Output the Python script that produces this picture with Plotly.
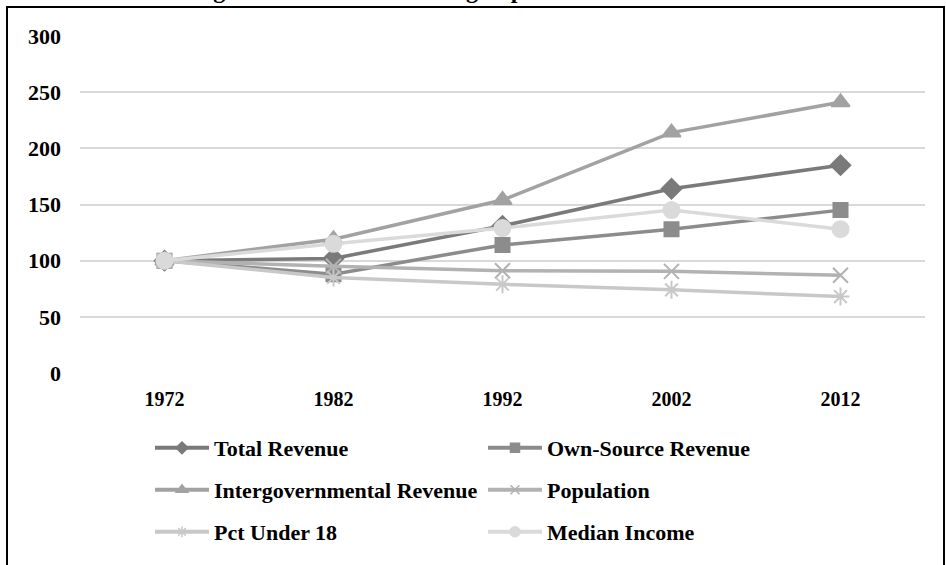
import plotly.graph_objects as go

years = ["1972", "1982", "1992", "2002", "2012"]
series_names = ["Total Revenue", "Own-Source Revenue", "Intergovernmental Revenue",
                "Population", "Pct Under 18", "Median Income"]
total_revenue = [100, 102, 131, 164, 185]
own_source = [100, 88, 114, 128, 145]
intergov = [100, 119, 154, 214, 241]
population = [100, 95, 91, 90.5, 87]
pct_under_18 = [100, 85, 79, 74, 68]
median_income = [100, 115, 129, 145, 128]
y_ticks = [0, 50, 100, 150, 200, 250, 300]

values = [total_revenue, own_source, intergov, population, pct_under_18, median_income]
colors = ["#7a7a7a", "#8c8c8c", "#a2a2a2", "#b2b2b2", "#c8c8c8", "#dadada"]
symbols = ["diamond", "square", "triangle-up", "x-thin-open", "asterisk-open", "circle"]
sizes = [15, 14, 16, 15, 15, 16]
legend_sizes = [9, 9, 10, 9, 9, 10]
legends = ["legend", "legend", "legend2", "legend2", "legend3", "legend3"]

FONT = "Liberation Serif"

fig = go.Figure()
# data traces
for name, v, c, s, sz in zip(series_names, values, colors, symbols, sizes):
    fig.add_trace(go.Scatter(
        x=years, y=v, name=name, mode="lines+markers", showlegend=False,
        line=dict(color=c, width=3.5),
        marker=dict(symbol=s, size=sz, color=c, line=dict(color=c, width=2)),
    ))
# legend entries (smaller symbols, as in the reference legend)
for name, c, s, lsz, lg in zip(series_names, colors, symbols, legend_sizes, legends):
    fig.add_trace(go.Scatter(
        x=[None], y=[None], name=name, mode="lines+markers", legend=lg,
        line=dict(color=c, width=4),
        marker=dict(symbol=s, size=lsz, color=c, line=dict(color=c, width=1.5)),
        hoverinfo="skip",
    ))

L, R, T, B = 80, 21, 36, 192
W, H = 946, 565
pw, ph = W - L - R, H - T - B

def px(xp):
    return (xp - L) / pw

def py(yp):
    return (H - B - yp) / ph

leg_common = dict(orientation="h", xanchor="left", yanchor="middle",
                  font=dict(family=FONT, size=22, color="black", weight="bold"),
                  itemwidth=54, entrywidth=264, entrywidthmode="pixels",
                  bgcolor="rgba(0,0,0,0)", itemclick=False)

fig.update_layout(
    width=W, height=H,
    margin=dict(l=L, r=R, t=T, b=B),
    paper_bgcolor="white", plot_bgcolor="white",
    showlegend=True,
    legend=dict(x=px(150), y=py(448), **leg_common),
    legend2=dict(x=px(150), y=py(490), **leg_common),
    legend3=dict(x=px(150), y=py(532), **leg_common),
    xaxis=dict(type="category", range=[-0.5, 4.5], showgrid=False, showline=False,
               ticks="", ticklabelstandoff=12,
               tickfont=dict(family=FONT, size=20, color="black", weight="bold")),
    yaxis=dict(range=[0, 300], tickvals=y_ticks, showgrid=True, gridcolor="#d9d9d9",
               gridwidth=1.5, zeroline=False, showline=False, ticks="",
               ticklabelstandoff=18,
               tickfont=dict(family=FONT, size=22, color="black", weight="bold")),
    shapes=[dict(type="rect", xref="paper", yref="paper",
                 x0=px(7), x1=px(944), y0=py(575), y1=py(7),
                 line=dict(color="black", width=2), fillcolor="rgba(0,0,0,0)",
                 layer="above")],
    annotations=[dict(text="Figure 4: Revenue Tracking Population Variables Trends",
                      xref="paper", yref="paper", x=px(483), y=py(5),
                      xanchor="center", yanchor="bottom", showarrow=False,
                      font=dict(family=FONT, size=24, color="black", weight="bold"))],
)

fig.write_html("out.html")
